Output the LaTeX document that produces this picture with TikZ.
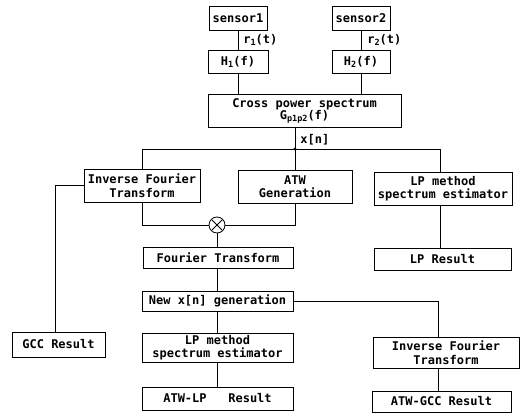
\documentclass[tikz,border=0pt]{standalone}
\usepackage{fontspec}
\setmonofont{DejaVu Sans Mono}
\usetikzlibrary{calc}
\newcommand{\lowsub}[1]{\raisebox{-2pt}{\fontsize{8.5}{8.5}\selectfont #1}}
\begin{document}
\begin{tikzpicture}[x=1pt,y=-1pt,line width=0.8pt,
  box/.style={draw, rectangle, inner sep=0pt, align=center,
    font=\ttfamily\bfseries\fontsize{12}{13.5}\selectfont},
  lbl/.style={anchor=west, inner sep=0pt, font=\ttfamily\bfseries\fontsize{12}{13.5}\selectfont}]
\useasboundingbox[fill=white] (0,0) rectangle (522,414);

% top
\node[box, minimum width=58pt, minimum height=24pt] (s1) at (238,18) {sensor1};
\node[box, minimum width=58pt, minimum height=24pt] (s2) at (361,18) {sensor2};
\node[box, minimum width=60pt, minimum height=23pt] (h1) at (238,61.5) {H\lowsub{1}(f)};
\node[box, minimum width=58pt, minimum height=23pt] (h2) at (361,61.5) {H\lowsub{2}(f)};
\node[box, minimum width=193pt, minimum height=33pt] (cps) at (304.5,110.5)
  {Cross power spectrum\\[-1.5pt]G\lowsub{p1p2}(f)};
\node[lbl] (r1) at (243,40) {r\lowsub{1}(t)};
\node[lbl] (r2) at (367,40) {r\lowsub{2}(t)};

% junction
\coordinate (jn) at (295,149);
\node[lbl] (xn) at (300,140) {x[n]};

% second row
\node[box, minimum width=116pt, minimum height=33pt] (ift1) at (142,185.5) {Inverse Fourier\\Transform};
\node[box, minimum width=114pt, minimum height=33pt] (atw) at (295,186.5) {ATW\\Generation};
\node[box, minimum width=138pt, minimum height=33pt] (lp1) at (443,188.5) {LP method\\spectrum estimator};
\node[box, minimum width=137pt, minimum height=22pt] (lpr) at (442.5,259) {LP Result};

% multiplier
\node[draw, circle, minimum size=16pt, inner sep=0pt] (mul) at (217,225) {};
\draw ($(mul.center)+(-5.2,-5.2)$) -- ($(mul.center)+(5.2,5.2)$);
\draw ($(mul.center)+(-5.2,5.2)$) -- ($(mul.center)+(5.2,-5.2)$);

% middle column
\node[box, minimum width=150pt, minimum height=21pt] (ft) at (218,257.5) {Fourier Transform};
\node[box, minimum width=151pt, minimum height=20pt] (nx) at (217.5,301) {New x[n] generation};
\node[box, minimum width=151pt, minimum height=29pt] (lp2) at (217.5,347.5) {LP method\\spectrum estimator};
\node[box, minimum width=151pt, minimum height=23pt] (atwlp) at (217.5,398.5) {ATW-LP\ \ \ Result};

% left / right bottom
\node[box, minimum width=93pt, minimum height=25pt] (gcc) at (58.5,344.5) {GCC Result};
\node[box, minimum width=146pt, minimum height=31pt] (ift2) at (446,352.5) {Inverse Fourier\\Transform};
\node[box, minimum width=139pt, minimum height=21pt] (atwgcc) at (441.5,401.5) {ATW-GCC Result};

\coordinate (c1) at (55,0);
\coordinate (c2) at (438,0);
\coordinate (c3) at (440,0);

% connectors
\draw (s1) -- (h1);
\draw (s2) -- (h2);
\draw (h1.south) -- (h1.south |- cps.north);
\draw (h2.south) -- (h2.south |- cps.north);
\draw (cps.south -| jn) -- (jn);
\fill (jn) circle (1.6pt);
\draw (ift1.north) |- (c3 |- jn) -- (c3 |- lp1.north);
\draw (jn) -- (atw.north -| jn);
\draw (ift1.south) |- (mul.west);
\draw (atw.south) |- (mul.east);
\draw (mul.south) -- (mul.south |- ft.north);
\draw (c3 |- lp1.south) -- (c3 |- lpr.north);
\draw (ft.south -| mul) -- (nx.north -| mul);
\draw (nx.south -| mul) -- (lp2.north -| mul);
\draw (lp2.south -| mul) -- (atwlp.north -| mul);
\draw (ift1.west) -| (c1 |- gcc.north);
\draw (nx.east) -| (c2 |- ift2.north);
\draw (c2 |- ift2.south) -- (c2 |- atwgcc.north);
\end{tikzpicture}
\end{document}
